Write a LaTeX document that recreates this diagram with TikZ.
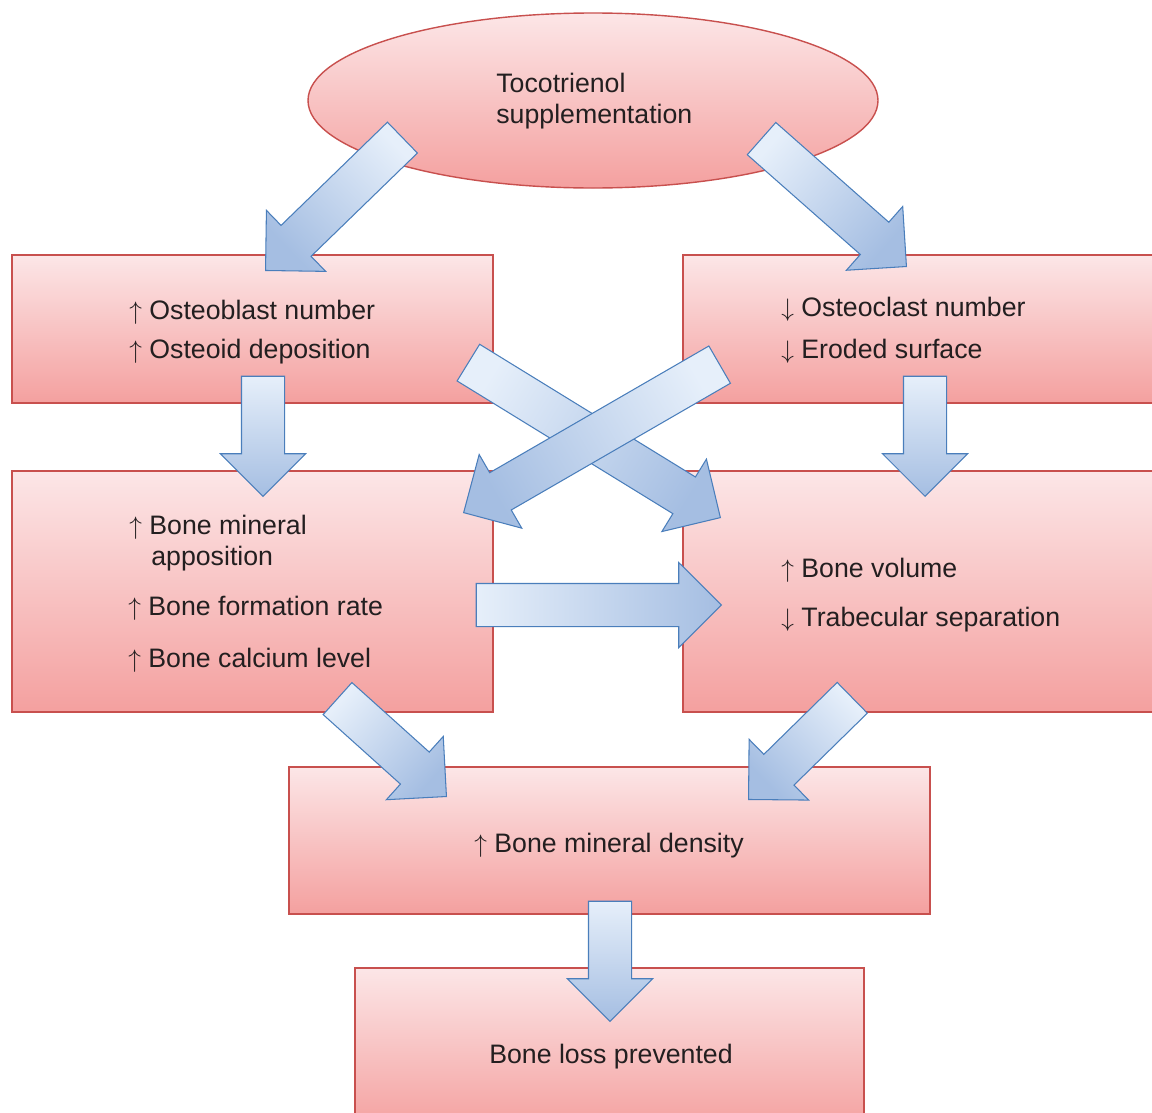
\documentclass[tikz,border=0pt]{standalone}
\usepackage{fontspec}
\setmainfont{Liberation Sans}
\usepackage{tikz}
\usetikzlibrary{calc,shapes.geometric,shapes.arrows}
\definecolor{boxtop}{HTML}{FCE6E7}
\definecolor{boxbot}{HTML}{F4A09F}
\definecolor{boxline}{HTML}{C8504E}
\definecolor{arrowlight}{HTML}{E6EFFA}
\definecolor{arrowdark}{HTML}{A5BEE2}
\definecolor{arrowline}{HTML}{4A7EBB}
\definecolor{txt}{HTML}{231F20}
\newcommand{\upx}{0.02cm}
\newcommand{\up}{$\uparrow$}
\newcommand{\down}{$\downarrow$}
\newcommand{\bigarrow}[3]{
	\path let \p1 = (#2), \p2 = (#3),
		\n1 = {atan2(\y2-\y1,\x2-\x1)}, \n2 = {veclen(\x2-\x1,\y2-\y1)} in
		node (#1) at (#3) [flowarrow,anchor=tip,rotate=\n1,minimum height=\n2,shading angle=\n1+90] {};
}

\begin{document}
\begin{tikzpicture}[x=\upx,y=-\upx,
	box/.style={draw=boxline,line width=0.8pt,top color=boxtop,bottom color=boxbot,inner sep=0pt},
	flowarrow/.style={single arrow,draw=arrowline,line width=0.6pt,inner xsep=0pt,inner ysep=21*\upx,
		top color=arrowlight,bottom color=arrowdark,single arrow head extend=21*\upx},
	lbl/.style={anchor=base west,inner sep=0pt,text=txt,font=\fontsize{15.2}{18}\selectfont}]
	\useasboundingbox (0,0) rectangle (1152,1112);
	% boxes
	\node (toco) at (593,100.5) [box,ellipse,minimum width=570*\upx,minimum height=175*\upx] {};
	\node (blast) at (252.5,329) [box,minimum width=481*\upx,minimum height=148*\upx] {};
	\node (clast) at (927.5,329) [box,minimum width=489*\upx,minimum height=148*\upx] {};
	\node (form) at (252.5,591.5) [box,minimum width=481*\upx,minimum height=241*\upx] {};
	\node (vol) at (927.5,591.5) [box,minimum width=489*\upx,minimum height=241*\upx] {};
	\node (bmd) at (609.5,840.5) [box,minimum width=641*\upx,minimum height=147*\upx] {};
	\node (loss) at (609.5,1049) [box,minimum width=509*\upx,minimum height=162*\upx] {};
	% texts
	\node (toco1) at (496,92) [lbl] {Tocotrienol};
	\node (toco2) at (496,123) [lbl] {supplementation};
	\node (blast1) at (129,319) [lbl] {\up{} Osteoblast number};
	\node (blast2) at (129,358) [lbl] {\up{} Osteoid deposition};
	\node (clast1) at (781,316) [lbl] {\down{} Osteoclast number};
	\node (clast2) at (781,358) [lbl] {\down{} Eroded surface};
	\node (form1) at (129,534) [lbl] {\up{} Bone mineral};
	\node (form2) at (151,565) [lbl] {apposition};
	\node (form3) at (128,615) [lbl] {\up{} Bone formation rate};
	\node (form4) at (128,667) [lbl] {\up{} Bone calcium level};
	\node (vol1) at (781,577) [lbl] {\up{} Bone volume};
	\node (vol2) at (781,626) [lbl] {\down{} Trabecular separation};
	\node (bmd1) at (609,852) [lbl,anchor=base] {\up{} Bone mineral density};
	\node (loss1) at (611,1063) [lbl,anchor=base] {Bone loss prevented};
	% arrow ends
	\coordinate (ta-s) at (402,138);	\coordinate (ta-e) at (265,271);
	\coordinate (tb-s) at (762,139);	\coordinate (tb-e) at (907,267);
	\coordinate (ac-s) at (263,377);	\coordinate (ac-e) at (263,497);
	\coordinate (bd-s) at (925,377);	\coordinate (bd-e) at (925,497);
	\coordinate (ad-s) at (469,363);	\coordinate (ad-e) at (721,518);
	\coordinate (bc-s) at (719,365);	\coordinate (bc-e) at (463,513);
	\coordinate (cd-s) at (477,605);	\coordinate (cd-e) at (722,605);
	\coordinate (ce-s) at (338,699);	\coordinate (ce-e) at (447,797);
	\coordinate (de-s) at (852,698);	\coordinate (de-e) at (748,800);
	\coordinate (ef-s) at (610,902);	\coordinate (ef-e) at (610,1022);
	% arrows
	\bigarrow{arrTA}{ta-s}{ta-e}
	\bigarrow{arrTB}{tb-s}{tb-e}
	\bigarrow{arrAC}{ac-s}{ac-e}
	\bigarrow{arrBD}{bd-s}{bd-e}
	\bigarrow{arrAD}{ad-s}{ad-e}
	\bigarrow{arrBC}{bc-s}{bc-e}
	\bigarrow{arrCD}{cd-s}{cd-e}
	\bigarrow{arrCE}{ce-s}{ce-e}
	\bigarrow{arrDE}{de-s}{de-e}
	\bigarrow{arrEF}{ef-s}{ef-e}
\end{tikzpicture}
\end{document}
